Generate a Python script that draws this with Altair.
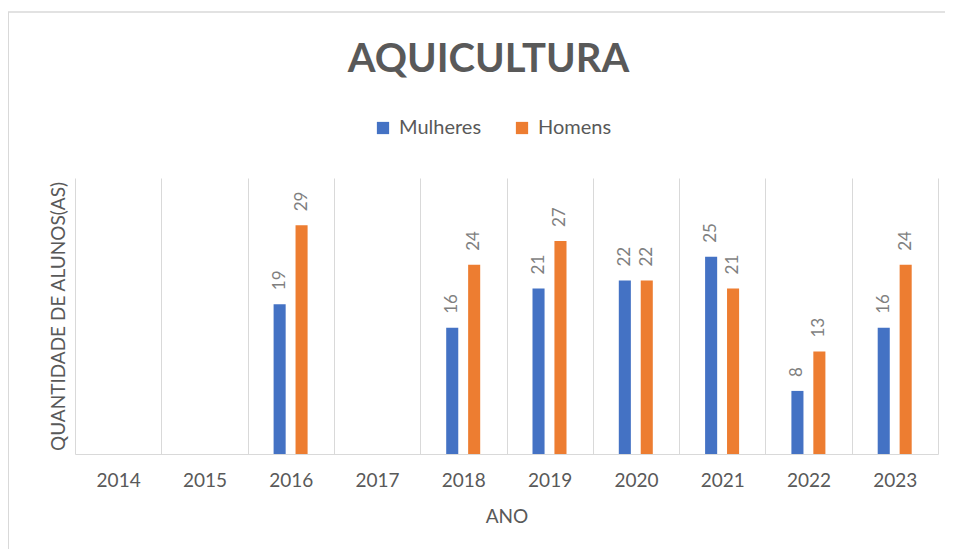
import altair as alt
import pandas as pd

anos = ["2014", "2015", "2016", "2017", "2018", "2019", "2020", "2021", "2022", "2023"]
mulheres = [None, None, 19, None, 16, 21, 22, 25, 8, 16]
homens = [None, None, 29, None, 24, 27, 22, 21, 13, 24]
series = ["Mulheres", "Homens"]
cores = ["#4472C4", "#ED7D31"]

rows = []
for a, m, h in zip(anos, mulheres, homens):
    rows.append({"ano": a, "sexo": "Mulheres", "valor": m})
    rows.append({"ano": a, "sexo": "Homens", "valor": h})
df = pd.DataFrame(rows)

FONT = "Lato"
GREY = "#595959"
FRAME = "#d9d9d9"

x_enc = alt.X(
    "ano:N",
    scale=alt.Scale(domain=anos, paddingInner=0, paddingOuter=0),
    axis=alt.Axis(
        title="ANO",
        labelAngle=0,
        labelFontSize=19,
        labelColor=GREY,
        labelPadding=17,
        ticks=False,
        domainColor=FRAME,
        grid=True,
        gridColor=FRAME,
        tickBand="extent",
        titleFontSize=19,
        titleFontWeight="normal",
        titleColor=GREY,
        titlePadding=17,
    ),
)
xoff = alt.XOffset(
    "sexo:N",
    scale=alt.Scale(domain=series, range=[26, 60], paddingInner=0.45, paddingOuter=0),
)
y_enc = alt.Y(
    "valor:Q",
    scale=alt.Scale(domain=[0, 35]),
    axis=alt.Axis(
        title="QUANTIDADE DE ALUNOS(AS)",
        labels=False,
        ticks=False,
        domain=False,
        grid=False,
        titleFontSize=19,
        titleFontWeight="normal",
        titleColor=GREY,
        titlePadding=7,
    ),
)

base = alt.Chart(df).transform_filter("isValid(datum.valor)")

bars = base.mark_bar().encode(
    x=x_enc,
    xOffset=xoff,
    y=y_enc,
    color=alt.Color(
        "sexo:N",
        scale=alt.Scale(domain=series, range=cores),
        legend=alt.Legend(
            title=None,
            orient="none",
            direction="horizontal",
            legendX=298,
            legendY=-60,
            symbolType="square",
            symbolSize=150,
            symbolStrokeWidth=0,
            labelFontSize=20,
            labelColor=GREY,
            labelFont=FONT,
            columnPadding=30,
            labelOffset=6,
        ),
        sort=series,
    ),
)

labels = base.mark_text(
    angle=270, align="left", baseline="middle", dx=14, fontSize=17, color="#7f7f7f", font=FONT
).encode(
    x=alt.X("ano:N", scale=alt.Scale(domain=anos, paddingInner=0, paddingOuter=0)),
    xOffset=xoff,
    y=alt.Y("valor:Q"),
    text=alt.Text("valor:Q"),
)

# outer chart frame (top and left edges, as in the reference)
frame_src = alt.Chart(pd.DataFrame({"k": [0]}))
frame_top = frame_src.mark_rule(color=FRAME, strokeWidth=1.5).encode(
    x=alt.value(-67), x2=alt.value(880), y=alt.value(-166)
)
frame_left = frame_src.mark_rule(color=FRAME, strokeWidth=2).encode(
    x=alt.value(-67), y=alt.value(-166), y2=alt.value(380)
)

chart = (
    alt.layer(frame_top, frame_left, bars, labels)
    .properties(
        width=863,
        height=276,
        title=alt.TitleParams(
            "AQUICULTURA",
            fontSize=40,
            fontWeight="bold",
            color=GREY,
            font=FONT,
            anchor="middle",
            offset=-69,
            dx=-18,
        ),
        autosize=alt.AutoSizeParams(type="none"),
        padding={"left": 67, "top": 170, "right": 7, "bottom": 95},
    )
    .configure(font=FONT)
    .configure_view(stroke=None, strokeWidth=0)
)

chart.save("out.html", embed_options={"renderer": "svg", "actions": False})
